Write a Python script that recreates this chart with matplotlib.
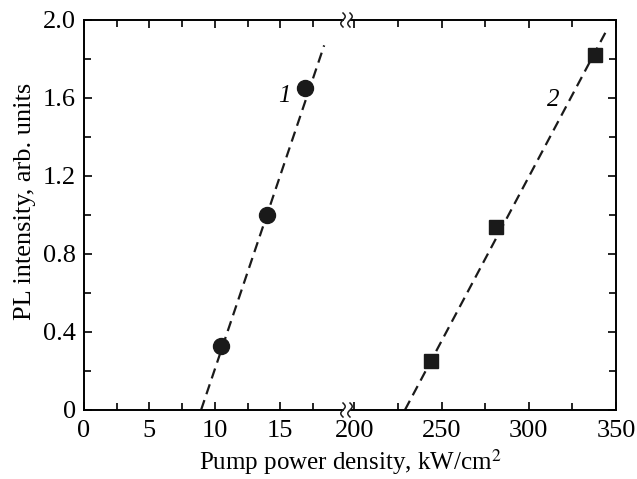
import matplotlib.pyplot as plt
from matplotlib.lines import Line2D
from matplotlib.ticker import MultipleLocator
import numpy as np

plt.rcParams['font.family'] = ['Liberation Serif', 'DejaVu Serif']
plt.rcParams['mathtext.fontset'] = 'stix'

# data
x1 = [10.5, 14.0, 16.9]
y1 = [0.33, 1.00, 1.65]
fit1_x = [8.95, 18.36]
fit1_y = [0.0, 1.87]

x2 = [244, 281, 338]
y2 = [0.25, 0.94, 1.82]
fit2_x = [229, 344.8]
fit2_y = [0.0, 1.95]

W, H = 637, 479
fig = plt.figure(figsize=(W / 100, H / 100), dpi=100)

left, right, x_brk1, x_brk2 = 84, 616, 343, 351
top, bottom = 20, 410
b = 1 - bottom / H
h = (bottom - top) / H
ax1 = fig.add_axes([left / W, b, (x_brk1 - left) / W, h])
ax2 = fig.add_axes([x_brk2 / W, b, (right - x_brk2) / W, h], sharey=ax1)

fs = 19
dash = (4.7, 2.8)
for ax in (ax1, ax2):
    for s in ax.spines.values():
        s.set_linewidth(1.4)
    ax.tick_params(which='both', direction='in', top=True, width=1.2, labelsize=fs)
    ax.tick_params(which='major', length=6)
    ax.tick_params(which='minor', length=5)

ax1.spines['right'].set_visible(False)
ax2.spines['left'].set_visible(False)

ax1.plot(fit1_x, fit1_y, color='#1a1a1a', lw=1.6, ls=(0, dash))
ax1.plot(x1, y1, 'o', color='#1a1a1a', ms=11.5)
ax2.plot(fit2_x, fit2_y, color='#1a1a1a', lw=1.6, ls=(0, dash))
ax2.plot(x2, y2, 's', color='#1a1a1a', ms=10)

ax1.set_xlim(0, 19.8)
ax2.set_xlim(198.1, 350)
ax1.set_ylim(0, 2.0)

ax1.xaxis.set_major_locator(MultipleLocator(5))
ax1.xaxis.set_minor_locator(MultipleLocator(2.5))
ax2.xaxis.set_major_locator(MultipleLocator(50))
ax2.xaxis.set_minor_locator(MultipleLocator(25))
ax1.yaxis.set_minor_locator(MultipleLocator(0.2))
ax1.set_yticks([0, 0.4, 0.8, 1.2, 1.6, 2.0])
ax1.set_yticklabels(['0', '0.4', '0.8', '1.2', '1.6', '2.0'])
ax1.tick_params(axis='y', which='both', right=False)
ax2.tick_params(axis='y', which='both', left=False, right=True, labelleft=False)
ax1.tick_params(axis='x', pad=7)
ax2.tick_params(axis='x', pad=7)
ax1.tick_params(axis='y', pad=6)

ax1.text(15.3, 1.58, '1', fontsize=18, style='italic', ha='center')
ax2.text(314, 1.56, '2', fontsize=18, style='italic', ha='center')

ax1.set_ylabel('PL intensity, arb. units', fontsize=fs, labelpad=5, y=0.535)
fig.text((left + right) / 2 / W, 1 - 462 / H, 'Pump power density, kW/cm$^2$',
         fontsize=18, ha='center', va='center')

# break marks
t = np.linspace(-1, 1, 40)
for yc in (top, bottom):
    for xc in (x_brk1, x_brk2 - 1):
        xs = xc + 2.2 * np.sin(t * np.pi)
        ys = yc - 7 * t
        fig.add_artist(Line2D(xs / W, 1 - ys / H, color='#1a1a1a', lw=1.1,
                              transform=fig.transFigure))

fig.savefig('out.png', dpi=100)
